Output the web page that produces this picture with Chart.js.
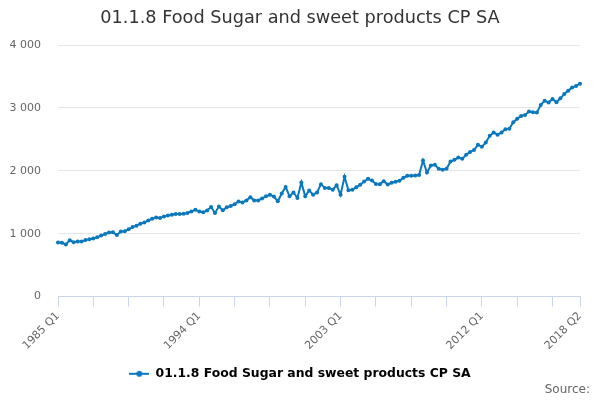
<!DOCTYPE html>
<html>
<head>
<meta charset="utf-8">
<title>01.1.8 Food Sugar and sweet products CP SA</title>
<script src="https://cdn.jsdelivr.net/npm/chart.js@4.4.1/dist/chart.umd.min.js"></script>
<style>
  html, body { margin: 0; padding: 0; background: #fff; }
</style>
</head>
<body>
<canvas id="chart" width="600" height="400"></canvas>
<script>
// --- datos ---
const seriesName = '01.1.8 Food Sugar and sweet products CP SA';
const firstYear = 1985;
const lastYear = 2018;
const lastQuarter = 2;
const quarterNames = ['Q1', 'Q2', 'Q3', 'Q4'];

// valores trimestrales 1985 Q1 .. 2018 Q2
const values = [
  862, 855, 830, 895, 865, 878, 875, 898, 912, 925,
  945, 970, 995, 1020, 1022, 980, 1035, 1040, 1072, 1105,
  1128, 1158, 1180, 1210, 1238, 1258, 1250, 1275, 1290, 1302,
  1312, 1312, 1318, 1330, 1355, 1380, 1355, 1340, 1370, 1425,
  1330, 1432, 1372, 1420, 1440, 1470, 1512, 1497, 1530, 1578,
  1530, 1528, 1560, 1595, 1620, 1590, 1515, 1640, 1742, 1595,
  1656, 1568, 1815, 1595, 1688, 1620, 1656, 1788, 1725, 1725,
  1700, 1770, 1620, 1905, 1690, 1698, 1740, 1778, 1830, 1873,
  1846, 1790, 1788, 1836, 1783, 1810, 1826, 1842, 1890, 1920,
  1920, 1925, 1932, 2164, 1974, 2085, 2095, 2032, 2016, 2032,
  2148, 2175, 2210, 2190, 2254, 2300, 2330, 2413, 2381, 2450,
  2556, 2609, 2575, 2609, 2661, 2667, 2773, 2826, 2873, 2889,
  2942, 2931, 2926, 3048, 3116, 3085, 3143, 3090, 3153, 3222,
  3275, 3323, 3350, 3385
];

const labelledTicks = ['1985 Q1', '1994 Q1', '2003 Q1', '2012 Q1', '2018 Q2'];
const tickEvery = 9;
const yMin = 0, yMax = 4000, yStep = 1000;

const labels = [];
for (let y = firstYear; y <= lastYear; y++) {
  quarterNames.forEach((q, i) => {
    if (y < lastYear || i < lastQuarter) labels.push(y + ' ' + q);
  });
}

const lineColor = '#0b78be';
const fontFamily = '"DejaVu Sans", sans-serif';

// símbolo de la leyenda: línea con punto
const legendSymbol = document.createElement('canvas');
legendSymbol.width = 20;
legendSymbol.height = 10;
(() => {
  const c = legendSymbol.getContext('2d');
  c.strokeStyle = lineColor;
  c.lineWidth = 2;
  c.beginPath(); c.moveTo(0, 5); c.lineTo(20, 5); c.stroke();
  c.fillStyle = lineColor;
  c.beginPath(); c.arc(10, 5, 3, 0, Math.PI * 2); c.fill();
})();

const formatThousands = v => String(v).replace(/\B(?=(\d{3})+(?!\d))/g, ' ');

// texto "Source:" abajo a la derecha
const sourceNote = {
  id: 'sourceNote',
  afterDraw(chart) {
    const ctx = chart.ctx;
    ctx.save();
    ctx.font = '12px ' + fontFamily;
    ctx.fillStyle = '#666666';
    ctx.textAlign = 'right';
    ctx.textBaseline = 'middle';
    ctx.fillText('Source:', 590, 390);
    ctx.restore();
  }
};

new Chart(document.getElementById('chart'), {
  type: 'line',
  data: {
    labels: labels,
    datasets: [{
      label: seriesName,
      data: values,
      borderColor: lineColor,
      backgroundColor: lineColor,
      borderWidth: 2,
      pointRadius: 2,
      pointBorderWidth: 0,
      pointBackgroundColor: lineColor,
      tension: 0,
      fill: false
    }]
  },
  options: {
    responsive: false,
    animation: false,
    layout: { padding: { top: 0, left: 0, right: 0, bottom: 10 } },
    plugins: {
      title: {
        display: true,
        text: seriesName,
        color: '#333333',
        font: { family: fontFamily, size: 17.7, weight: 'normal' },
        padding: { top: 8, bottom: 15.8 }
      },
      legend: {
        position: 'bottom',
        labels: {
          usePointStyle: true,
          pointStyleWidth: 20,
          padding: 10,
          color: '#333333',
          font: { family: fontFamily, size: 12.4, weight: 'bold' },
          generateLabels: () => [{
            text: seriesName,
            pointStyle: legendSymbol,
            fillStyle: lineColor,
            strokeStyle: lineColor,
            lineWidth: 0,
            hidden: false,
            datasetIndex: 0
          }]
        }
      },
      tooltip: { enabled: false }
    },
    scales: {
      x: {
        type: 'category',
        afterFit: s => { s.height = 61; s.paddingLeft = 0; s.paddingRight = 20; },
        grid: {
          drawOnChartArea: false,
          drawTicks: true,
          tickLength: 10,
          color: ctx => (ctx.index % tickEvery === 0 || ctx.index === labels.length - 1) ? '#ccd6eb' : 'rgba(0,0,0,0)'
        },
        border: { display: true, color: '#ccd6eb', width: 1 },
        ticks: {
          autoSkip: false,
          maxRotation: 45,
          minRotation: 45,
          padding: 3,
          color: '#666666',
          font: { family: fontFamily, size: 11 },
          callback: function (val) {
            const lab = this.getLabelForValue(val);
            return labelledTicks.includes(lab) ? lab : '';
          }
        }
      },
      y: {
        min: yMin,
        max: yMax,
        afterFit: s => { s.width = 58; },
        grid: { color: '#e6e6e6', drawTicks: false },
        border: { display: false },
        ticks: {
          stepSize: yStep,
          padding: 17,
          color: '#666666',
          font: { family: fontFamily, size: 11 },
          callback: v => formatThousands(v)
        }
      }
    }
  },
  plugins: [sourceNote]
});
</script>
</body>
</html>
